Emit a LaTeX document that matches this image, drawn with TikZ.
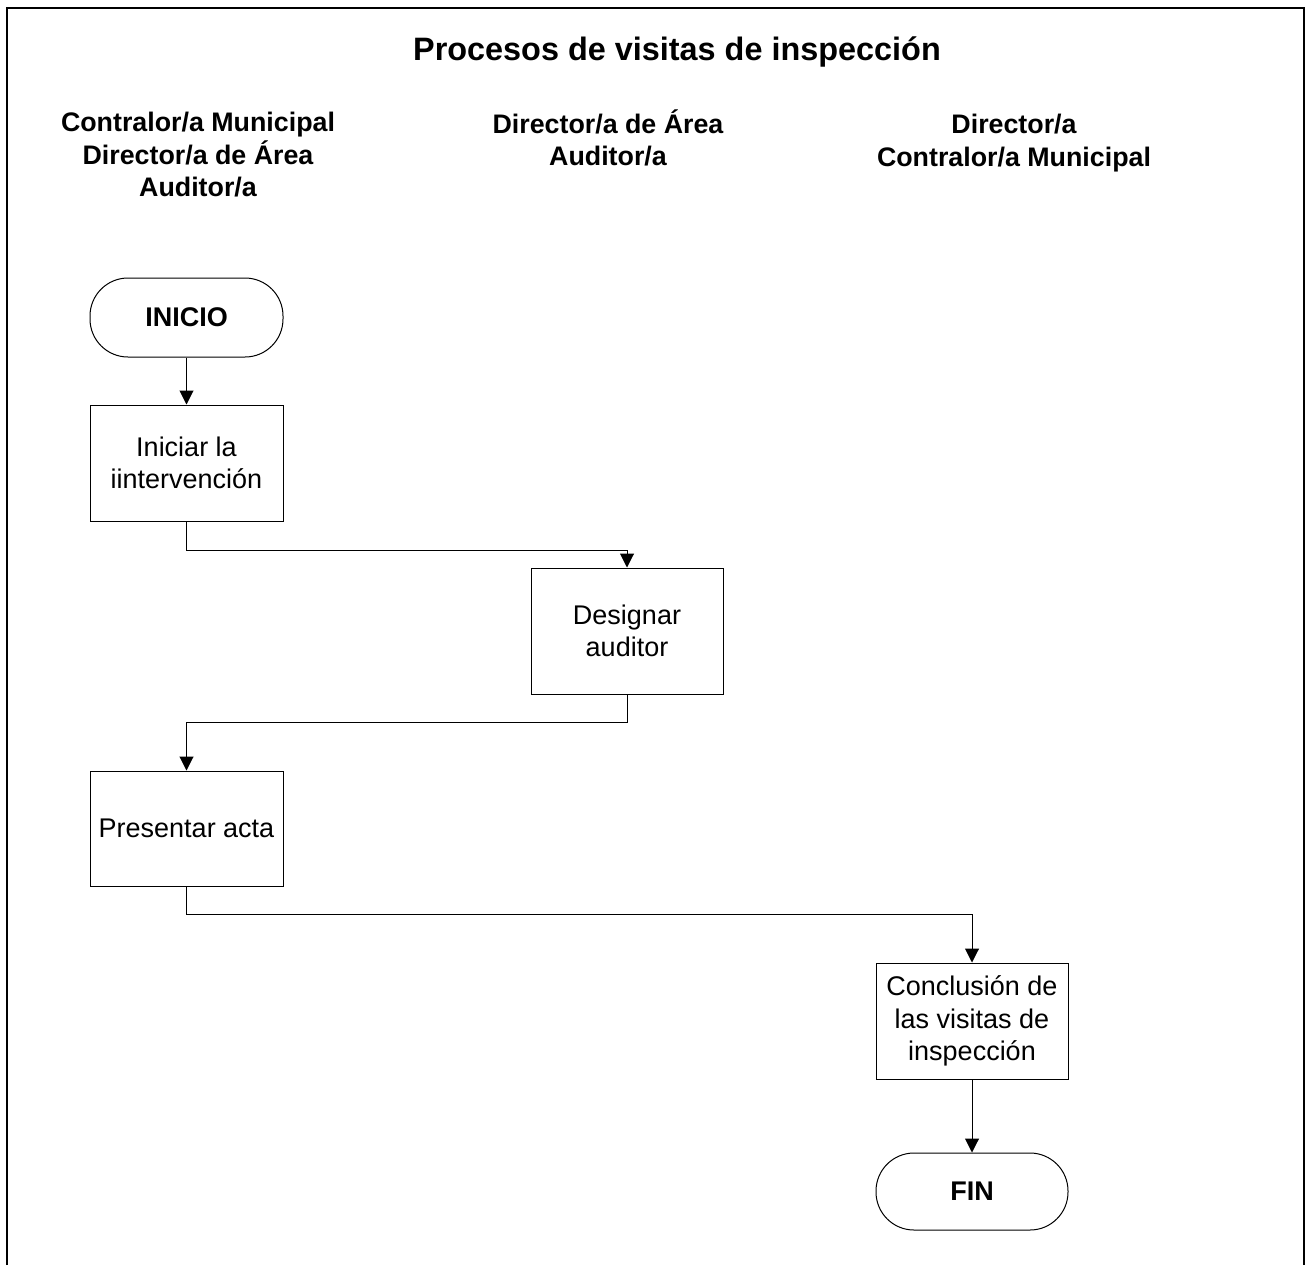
\documentclass[tikz,border=0pt]{standalone}
\usepackage{fontspec}
\setmainfont{Liberation Sans}
\usetikzlibrary{arrows.meta}
\begin{document}
\begin{tikzpicture}[x=0.5pt,y=-0.5pt,
  every node/.style={inner sep=0pt, align=center},
  boxtext/.style={font=\fontsize{13.5}{16.25}\selectfont},
  headtext/.style={font=\bfseries\fontsize{13.4}{16.25}\selectfont},
  process/.style={draw, line width=0.5pt, boxtext},
  terminal/.style={draw, line width=0.5pt, rounded corners=19pt, font=\bfseries\fontsize{13.5}{16.25}\selectfont},
  flow/.style={line width=0.5pt, -{Triangle[length=7pt,width=7pt]}}]
  \useasboundingbox (0,0) rectangle (1306,1265);
  % open frame around the chart
  \draw[line width=1pt] (7,1265) -- (7,8) -- (1304,8) -- (1304,1265);

  \node[font=\bfseries\fontsize{16.2}{19}\selectfont] (title) at (677,52) {Procesos de visitas de inspección};

  \node[headtext] (h1) at (198,155) {Contralor/a Municipal\\Director/a de Área\\Auditor/a};
  \node[headtext] (h2) at (608,138) {Director/a de Área\\Auditor/a};
  \node[headtext] (h3) at (1014,143) {Director/a\\Contralor/a Municipal};

  \node[terminal, minimum width=96.5pt, minimum height=39.5pt] (inicio) at (186.5,317.5) {INICIO};
  \node[process, minimum width=96.5pt, minimum height=58pt] (b1) at (186.5,463) {Iniciar la\\iintervención};
  \node[process, minimum width=96pt, minimum height=63pt] (b2) at (627,631) {Designar\\auditor};
  \node[process, minimum width=96.5pt, minimum height=57.5pt] (b3) at (186.5,828.5) {Presentar acta};
  \node[process, minimum width=96pt, minimum height=58pt] (b4) at (972,1021) {Conclusión de\\las visitas de\\inspección};
  \node[terminal, minimum width=96pt, minimum height=38.5pt] (fin) at (972,1191.5) {FIN};

  \draw[flow] (inicio.south) -- (b1.north);
  \draw[flow] (b1.south) -- ++(0,29) -| (b2.north);
  \draw[flow] (b2.south) -- ++(0,28) -| (b3.north);
  \draw[flow] (b3.south) -- ++(0,28) -| (b4.north);
  \draw[flow] (b4.south) -- (fin.north);
\end{tikzpicture}
\end{document}
